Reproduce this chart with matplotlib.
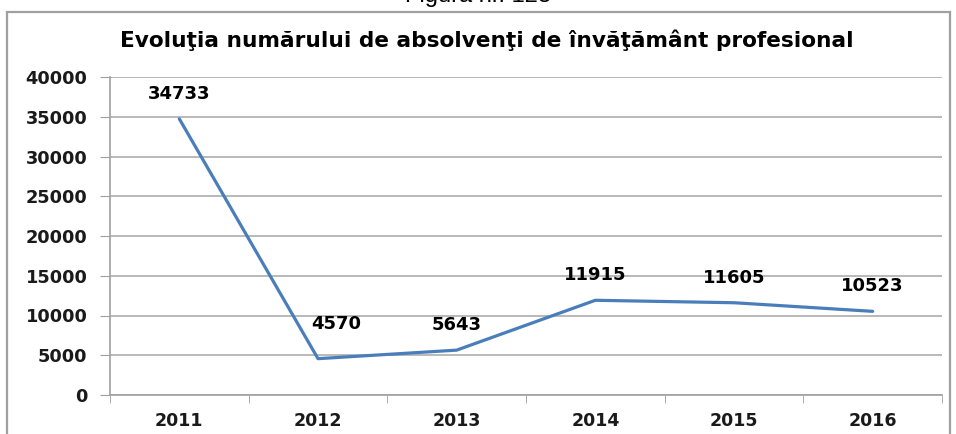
import numpy as np
import matplotlib.pyplot as plt
from matplotlib.patches import Rectangle

ani = ['2011', '2012', '2013', '2014', '2015', '2016']
absolventi = [34733, 4570, 5643, 11915, 11605, 10523]
y_ticks = [0, 5000, 10000, 15000, 20000, 25000, 30000, 35000, 40000]

plt.rcParams['font.family'] = ['DejaVu Sans']

fig = plt.figure(figsize=(9.56, 4.34), dpi=100)
W, H = 956, 434

# chenarul graficului
fig.patches.append(Rectangle((7 / W, -0.05), 943 / W, 1.05 - 12 / H,
                             transform=fig.transFigure, fill=False,
                             edgecolor='#a0a0a0', linewidth=1.6))

# legenda figurii, taiata sus
fig.text(0.5, 1.0 + 4 / H, 'Figura nr. 123', ha='center', va='center',
         fontsize=17, color='black', family='Liberation Sans')

fig.text(487 / W, 1 - 40 / H, 'Evoluţia numărului de absolvenţi de învăţământ profesional',
         ha='center', va='center', fontsize=15.6, fontweight='bold')

ax = fig.add_axes([110 / W, 1 - 395 / H, 832 / W, 318 / H])
x = np.arange(len(ani))
ax.plot(x, absolventi, color='#4a7ebb', linewidth=2.3, solid_capstyle='round')

# eticheta pentru 2012 e mutata putin spre dreapta, ca sa nu atinga linia
offsets = {1: (13, 25)}
for xi, v in zip(x, absolventi):
    ax.annotate(str(v), (xi, v), xytext=offsets.get(xi, (0, 18)),
                textcoords='offset points', ha='center', va='center',
                fontsize=13, fontweight='bold')

ax.set_xlim(-0.5, len(ani) - 0.5)
ax.set_ylim(0, 40000)
ax.set_yticks(y_ticks)
ax.set_yticklabels([str(t) for t in y_ticks], fontsize=12.8, fontweight='bold',
                   color='#1a1a1a')
ax.set_xticks(x)
ax.set_xticklabels(ani, fontsize=12.5, fontweight='bold', color='#1a1a1a')
ax.tick_params(axis='x', length=0, pad=12)
ax.set_xticks(np.arange(-0.5, len(ani)), minor=True)
ax.tick_params(axis='x', which='minor', length=6, color='#a0a0a0')
ax.tick_params(axis='y', length=7.2, color='#a0a0a0', pad=9)

ax.grid(axis='y', color='#a6a6a6', linewidth=1.1)
ax.set_axisbelow(True)
for s in ['top', 'right']:
    ax.spines[s].set_visible(False)
for s in ['left', 'bottom']:
    ax.spines[s].set_color('#a0a0a0')
    ax.spines[s].set_linewidth(1.2)

fig.savefig('out.png', dpi=100)
